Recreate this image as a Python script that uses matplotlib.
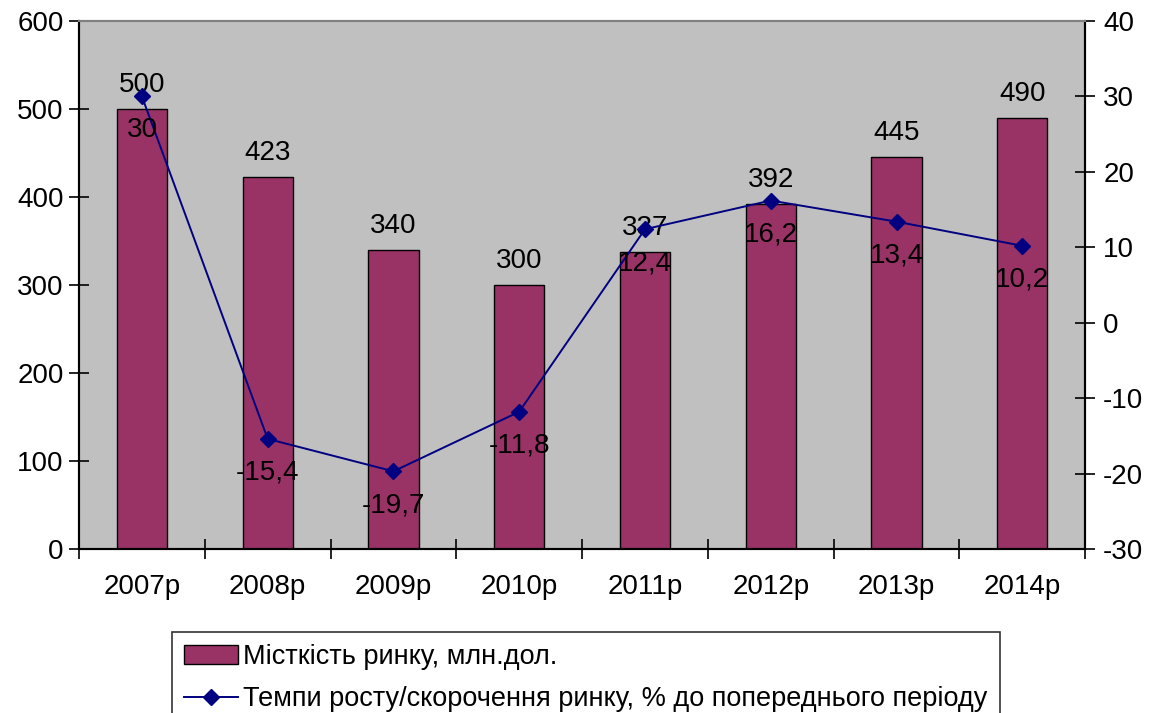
import numpy as np
import matplotlib.pyplot as plt

plt.rcParams['font.family'] = ['Liberation Sans', 'DejaVu Sans']
plt.rcParams['axes.unicode_minus'] = False

years = ['2007р', '2008р', '2009р', '2010р', '2011р', '2012р', '2013р', '2014р']
capacity = [500, 423, 340, 300, 337, 392, 445, 490]
growth = [30, -15.4, -19.7, -11.8, 12.4, 16.2, 13.4, 10.2]
growth_labels = ['30', '-15,4', '-19,7', '-11,8', '12,4', '16,2', '13,4', '10,2']

fig = plt.figure(figsize=(11.52, 7.13), dpi=100)
ax = fig.add_axes([0.0686, 0.23, 0.8734, 0.7405])
ax.set_facecolor('#C0C0C0')

x = np.arange(len(years))
ax.bar(x, capacity, width=0.4, color='#993366', edgecolor='black', linewidth=1,
       label='Місткість ринку, млн.дол.', zorder=2)
for xi, v in zip(x, capacity):
    ax.annotate(str(v), (xi, v), xytext=(0, 8), textcoords='offset points',
                ha='center', va='bottom', fontsize=20)

ax.set_xlim(-0.5, len(years) - 0.5)
ax.set_ylim(0, 600)
ax.set_yticks(range(0, 601, 100))
ax.set_xticks(x)
ax.set_xticklabels(years)
ax.set_xticks(np.arange(-0.5, len(years), 1), minor=True)
ax.tick_params(axis='x', which='major', length=0, pad=18, labelsize=20)
ax.tick_params(axis='x', which='minor', direction='inout', length=14, width=1.2)
ax.tick_params(axis='y', direction='inout', length=14, width=1.2, pad=4, labelsize=20)

ax2 = ax.twinx()
ax2.plot(x, growth, color='#000080', linewidth=1.4, marker='D', markersize=8,
         label='Темпи росту/скорочення ринку, % до попереднього періоду', zorder=3)
for xi, v, t in zip(x, growth, growth_labels):
    ax2.annotate(t, (xi, v), xytext=(0, -15), textcoords='offset points',
                 ha='center', va='top', fontsize=20)
ax2.set_ylim(-30, 40)
ax2.set_yticks(range(-30, 41, 10))
ax2.tick_params(axis='y', direction='inout', length=14, width=1.2, pad=6, labelsize=20)

for a in (ax, ax2):
    a.spines['top'].set_color('#808080')
    a.spines['top'].set_linewidth(1.5)
    for s in ('left', 'right', 'bottom'):
        a.spines[s].set_color('black')
        a.spines[s].set_linewidth(1.5)

h1, l1 = ax.get_legend_handles_labels()
h2, l2 = ax2.get_legend_handles_labels()
leg = fig.legend(h1 + h2, l1 + l2, loc='upper left', bbox_to_anchor=(0.149, 0.114),
                 fontsize=19.5, frameon=True, fancybox=False, edgecolor='black',
                 borderpad=0.45, handlelength=2.0, handletextpad=0.2, labelspacing=0.6,
                 borderaxespad=0)
leg.get_frame().set_linewidth(1.2)

fig.savefig('out.png', dpi=100)
